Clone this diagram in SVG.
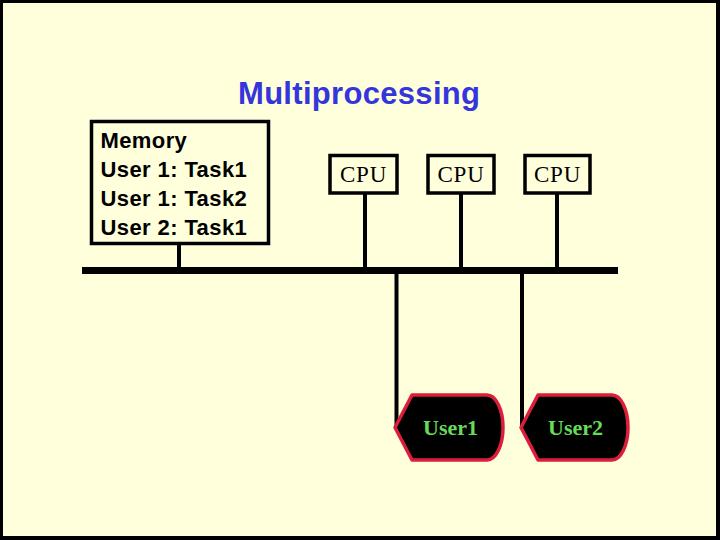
<svg xmlns="http://www.w3.org/2000/svg" width="720" height="540" viewBox="0 0 720 540">
  <style>
    .box { fill: none; stroke: #000; stroke-width: 3.5; }
    .wire { stroke: #000; stroke-width: 4; fill: none; }
    .bus { stroke: #000; stroke-width: 7; fill: none; }
    .mem { font-family: "Liberation Sans", Arial, sans-serif; font-size: 22px; font-weight: bold; fill: #000; letter-spacing: 0.4px; }
    .cpu { font-family: "Liberation Serif", "Times New Roman", serif; font-size: 23px; fill: #000; text-anchor: middle; letter-spacing: 0.8px; }
    .user { fill: #000; stroke: #dc1e3c; stroke-width: 3.5; stroke-linejoin: round; }
    .utext { font-family: "Liberation Serif", "Times New Roman", serif; font-size: 22px; font-weight: bold; fill: #66dd5a; text-anchor: middle; }
    .title { font-family: "Liberation Sans", Arial, sans-serif; font-size: 31px; font-weight: bold; fill: #3535dc; }
  </style>
  <rect x="0" y="0" width="720" height="540" fill="#000"/>
  <rect x="3" y="3" width="713" height="533" fill="#ffffdc"/>

  <text id="title" class="title" x="238" y="104" textLength="242" lengthAdjust="spacing">Multiprocessing</text>

  <g id="connectors">
    <line class="bus" x1="82" y1="270.5" x2="618" y2="270.5"/>
    <line class="wire" x1="179" y1="245" x2="179" y2="268"/>
    <line class="wire" x1="365" y1="193" x2="365" y2="268"/>
    <line class="wire" x1="461" y1="193" x2="461" y2="268"/>
    <line class="wire" x1="557" y1="193" x2="557" y2="268"/>
    <line class="wire" x1="396.5" y1="273" x2="396.5" y2="427"/>
    <line class="wire" x1="522" y1="273" x2="522" y2="427"/>
  </g>

  <g id="memory">
    <rect class="box" x="91.5" y="121.5" width="177" height="122" stroke-width="4"/>
    <text class="mem" x="100.5" y="148">Memory</text>
    <text class="mem" x="100.5" y="177">User 1: Task1</text>
    <text class="mem" x="100.5" y="206">User 1: Task2</text>
    <text class="mem" x="100.5" y="234.5">User 2: Task1</text>
  </g>

  <g id="cpu1">
    <rect class="box" x="330" y="155.5" width="67" height="37.5"/>
    <text class="cpu" x="363.5" y="181.5">CPU</text>
  </g>
  <g id="cpu2">
    <rect class="box" x="428" y="155.5" width="66" height="37.5"/>
    <text class="cpu" x="461" y="181.5">CPU</text>
  </g>
  <g id="cpu3">
    <rect class="box" x="525" y="155.5" width="65" height="37.5"/>
    <text class="cpu" x="557.5" y="181.5">CPU</text>
  </g>

  <g id="user1">
    <path class="user" d="M395,427.5 L412,395 L487,395 A16,32.5 0 0 1 487,460 L412,460 Z"/>
    <text class="utext" x="450.5" y="435">User1</text>
  </g>
  <g id="user2">
    <path class="user" d="M521,427.5 L538,395 L612,395 A16,32.5 0 0 1 612,460 L538,460 Z"/>
    <text class="utext" x="575.5" y="435">User2</text>
  </g>
</svg>
